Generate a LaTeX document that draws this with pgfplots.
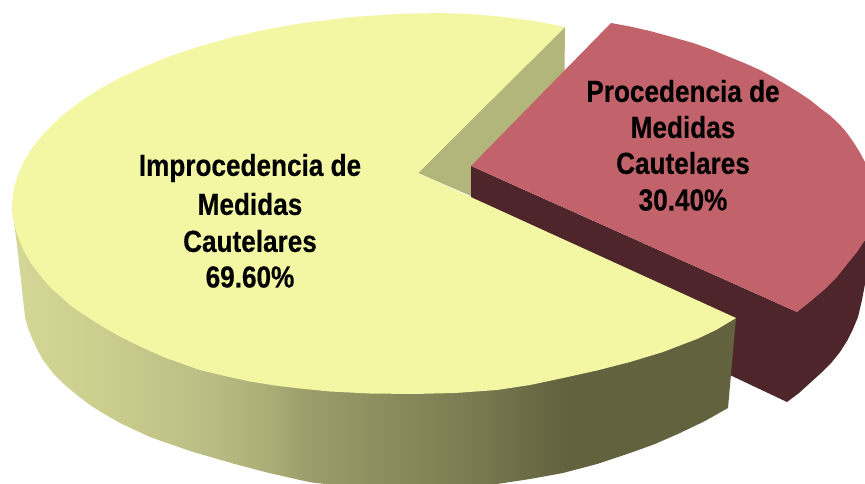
\documentclass[border=0pt]{standalone}
\usepackage{fontspec}
\setmainfont{Liberation Sans}[FakeStretch=0.86, BoldFeatures={FakeStretch=0.86,FakeBold=0.4}]
\usepackage{pgfplots}
\pgfplotsset{compat=1.18}
\definecolor{topY}{HTML}{F3F7A3}
\definecolor{faceY}{HTML}{B3B67A}
\definecolor{topR}{HTML}{C2626A}
\definecolor{sideR}{HTML}{4E252B}
\definecolor{s0}{HTML}{D4D796}
\definecolor{s1}{HTML}{CBCE8D}
\definecolor{s2}{HTML}{BCBF85}
\definecolor{s3}{HTML}{A8AA74}
\definecolor{s4}{HTML}{9E9F6C}
\definecolor{s5}{HTML}{888A5C}
\definecolor{s6}{HTML}{78794F}
\definecolor{s7}{HTML}{62623F}
\pgfdeclarehorizontalshading{sideshade}{100bp}{
 color(0bp)=(s0); color(25bp)=(s0); color(31.1bp)=(s1); color(38bp)=(s2);
 color(43.5bp)=(s3); color(44.9bp)=(s4); color(51.8bp)=(s5); color(57.3bp)=(s6);
 color(63.2bp)=(s7); color(75bp)=(s7); color(100bp)=(s7)}
\newcommand{\lbl}[3]{\node[font=\fontsize{30.4}{30.4}\selectfont\bfseries,text=black,inner sep=0pt,anchor=center] at (axis cs:#1,#2) {#3};}
\begin{document}
\begin{tikzpicture}
\begin{axis}[
  scale only axis, width=865pt, height=484pt,
  xmin=0, xmax=865, ymin=0, ymax=484, y dir=reverse,
  hide axis, clip=true, axis line style={draw=none}, tick style={draw=none}]
\path (axis cs:0,0) rectangle (axis cs:865,484);
% inner face of the large slice
\addplot[draw=none, fill=faceY, mark=none, forget plot] coordinates {
 (418,173)(565,27)(564.5,72)(564.5,120)(471,196)} --cycle;
% side of the small slice
\addplot[draw=none, fill=sideR, mark=none, forget plot] coordinates {
 (471,166)(797,312)(865,240)(865,284)(862,300)(858,317)(853,329)(847,341)(840,352)(832,362)(821,373)(810,383)(799,393)(787,402)(732,376)(471,260)} --cycle;
% top of the small slice
\addplot[draw=none, fill=topR, mark=none, forget plot] coordinates {
 (471,166)(611,23)(630,26.5)(650,31)(670,36.5)(693,43)(710,49)(727,56)(743,62.5)(760,70)(773,77)(785,84)(798,92)(810,100)(820,108)(830,115.5)(838,123)(845,130.5)(852,140)(859,151)(865,162)(865,240)(857,252)(848,263)(837,277)(825,289)(811,301)(797,312)} --cycle;
% side of the large slice
\addplot[draw=none, shading=sideshade, mark=none, forget plot] coordinates {
 (736,318)(728,408)(705,421)(680,433)(655,444)(630,453)(597,464)(563,473)(530,479)(497,484)(325,484)(312,482.5)(300,480)(267,472.5)(233,463.5)(190,451)(170,444)(150,437)(135,430)(120,423)(106,415)(93,407)(78,396)(65,385)(53,373)(43,360)(37,349)(32,338)(28,328)(25,317)(21,280)(17,245)(12,207)(300,300)} --cycle;
% top of the large slice
\addplot[draw=none, fill=topY, mark=none, forget plot] coordinates {
 (418,173)(565,27)(535,21)(500,16.5)(470,14)(438,13)(400,13.8)(350,17.2)(300,23.5)(267,29.3)(233,37)(200,46.2)(167,57.2)(140,68.5)(120,77.8)(100,88.8)(84,99)(68,110.8)(54,123)(42,135.6)(32,148.2)(24,161.2)(18,174.6)(14.5,186)(12.7,197)(12,207)(13,217)(16,231)(20,242)(24,251)(30,262)(36,270)(43,279)(51,288)(60,296)(70,305)(80,312)(92,320)(105,328)(119,336)(133,343)(150,351)(166,358)(183,364)(200,370)(225,376)(250,381.5)(275,385.5)(300,388.5)(330,391.5)(370,393.5)(413,394)(455,393)(497,390)(530,385)(563,378)(597,370.5)(630,362)(663,352)(697,339)(716,330)(736,318)} --cycle;
\lbl{250}{168}{Improcedencia de}
\lbl{250}{204}{Medidas}
\lbl{250}{241}{Cautelares}
\lbl{250}{277}{69.60\%}
\lbl{683}{91}{Procedencia de}
\lbl{683}{127}{Medidas}
\lbl{683}{163}{Cautelares}
\lbl{683}{200}{30.40\%}
\end{axis}
\end{tikzpicture}
\end{document}
